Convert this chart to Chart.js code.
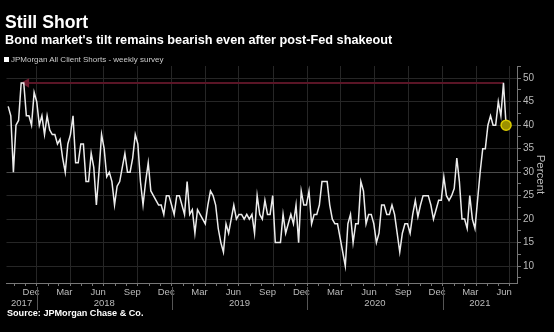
<!DOCTYPE html>
<html>
<head>
<meta charset="utf-8">
<script src="https://cdn.jsdelivr.net/npm/chart.js@4"></script>
<style>
  body { margin: 0; background: #000; }
  #cadre { position: relative; width: 554px; height: 332px; overflow: hidden; background: #000;
           font-family: "Liberation Sans", Arial, sans-serif; }
  #graphe { position: absolute; left: 0; top: 0; }
  .txt { position: absolute; white-space: nowrap; line-height: 1; }
  #titre { left: 5px; top: 14px; font-size: 17.6px; font-weight: bold; color: #fff; }
  #soustitre { left: 5px; top: 33.5px; font-size: 12.7px; font-weight: bold; color: #fff; }
  #legende { left: 11px; top: 56px; font-size: 8px; color: #ccc; }
  #carre { position: absolute; left: 4px; top: 57px; width: 5px; height: 5px; background: #fff; }
  #source { left: 7px; top: 309px; font-size: 9.1px; font-weight: bold; color: #fff; }
</style>
</head>
<body>
<div id="cadre">
  <canvas id="graphe" width="554" height="332"></canvas>
  <div class="txt" id="titre">Still Short</div>
  <div class="txt" id="soustitre">Bond market's tilt remains bearish even after post-Fed shakeout</div>
  <div id="carre"></div>
  <div class="txt" id="legende">JPMorgan All Client Shorts - weekly survey</div>
  <div class="txt" id="source">Source: JPMorgan Chase &amp; Co.</div>
</div>
<script>
// ---- DONNÉES ----
// Sondage hebdo JPMorgan : % de clients "short" sur les Treasuries
const premiereSemaine = '2017-10-16'
const shorts = [
  44, 42, 30, 40, 41, 49, 49, 42, 42, 40,
  47, 45, 40, 42, 38, 42, 39, 38, 38, 36,
  37, 33, 30, 36, 38, 42, 32, 32, 36, 36,
  28, 28, 34, 31, 23, 30, 38, 35, 29, 30,
  28, 23, 27, 28, 31, 34, 30, 30, 33, 38,
  36, 28, 23, 28, 32, 26, 25, 24, 23, 23,
  21, 25, 25, 23, 21, 25, 25, 23, 21, 28,
  21, 22, 17, 22, 21, 20, 19, 23, 26, 25,
  23, 18, 15, 13, 19, 17, 20, 23, 20, 21,
  21, 20, 21, 20, 21, 17, 25, 21, 20, 24,
  21, 21, 25, 15, 15, 15, 21, 17, 19, 21,
  19, 23, 15, 26, 23, 23, 26, 19, 21, 21,
  23, 28, 28, 28, 23, 20, 19, 19, 16, 13,
  10, 19, 21, 15, 19, 19, 28, 26, 19, 21,
  21, 19, 15, 17, 23, 23, 21, 21, 23, 21,
  17, 13, 17, 19, 19, 17, 21, 24, 20.5, 23,
  25, 25, 25, 23, 20, 22, 24, 24, 29, 25,
  24, 25, 26.5, 33, 28, 20, 20, 18, 25, 20,
  18, 24, 30, 35, 35, 40, 42, 40, 40, 45,
  42, 49, 40
]
// ligne rouge : niveau du pic de fin 2017, retrouvé en juin 2021
const niveauPic = 49
const semainesPic = [7, 191]

const ticksY = [10, 15, 20, 25, 30, 35, 40, 45, 50]
const moisNoms = ['Jan', 'Feb', 'Mar', 'Apr', 'May', 'Jun', 'Jul', 'Aug', 'Sep', 'Oct', 'Nov', 'Dec']
const moisAffiches = [2, 5, 8, 11]
const annees = [2017, 2018, 2019, 2020, 2021]

// ---- ÉCHELLE DE TEMPS (jours depuis le 1er janvier 2018) ----
const JOUR = 864e5
const origine = Date.UTC(2018, 0, 1)
const jour = (a, m, j) => (Date.UTC(a, m, j) - origine) / JOUR
const debut = (Date.parse(premiereSemaine) - origine) / JOUR
const semaine = i => debut + 7 * i

const points = shorts.map((v, i) => ({ x: semaine(i), y: v }))
const repere = semainesPic.map(i => ({ x: semaine(i), y: niveauPic }))

const GRILLE = '#262626'
const TRANSPARENT = 'rgba(0,0,0,0)'

// années + séparateurs sous l'axe des dates
const pluginAnnees = {
  id: 'annees',
  afterDraw(chart) {
    const x = chart.scales.x
    const ctx = chart.ctx
    ctx.save()
    ctx.font = '9.5px "Liberation Sans", Arial, sans-serif'
    ctx.fillStyle = '#bbb'
    ctx.textAlign = 'center'
    ctx.textBaseline = 'middle'
    ctx.strokeStyle = '#555'
    ctx.lineWidth = 1
    annees.forEach(a => {
      const d0 = jour(a, 0, 1)
      const g = Math.max(d0, x.min)
      const d = Math.min(jour(a + 1, 0, 1), x.max)
      ctx.fillText(String(a), (x.getPixelForValue(g) + x.getPixelForValue(d)) / 2, 303)
      if (d0 > x.min) {
        const px = Math.round(x.getPixelForValue(d0)) + 0.5
        ctx.beginPath()
        ctx.moveTo(px, 287)
        ctx.lineTo(px, 310)
        ctx.stroke()
      }
    })
    ctx.restore()
  }
}

new Chart(document.getElementById('graphe'), {
  type: 'line',
  data: {
    datasets: [
      {
        data: points,
        borderColor: '#ececec',
        borderWidth: 1.5,
        tension: 0,
        pointRadius: c => c.dataIndex === shorts.length - 1 ? 5 : 0,
        pointBackgroundColor: '#9c9000',
        pointBorderColor: '#dccc00',
        pointBorderWidth: 1.5,
        order: 0
      },
      {
        data: repere,
        borderColor: '#5a1526',
        borderWidth: 2,
        pointStyle: 'triangle',
        pointRotation: -90,
        pointRadius: c => c.dataIndex === 0 ? 3.5 : 0,
        pointBackgroundColor: '#6e1a2e',
        pointBorderColor: '#6e1a2e',
        order: 1
      }
    ]
  },
  options: {
    responsive: false,
    animation: false,
    layout: { padding: { left: 3, top: 66, right: 0, bottom: 0 } },
    plugins: { legend: { display: false }, tooltip: { enabled: false } },
    scales: {
      x: {
        type: 'linear',
        min: debut - 4.6,
        max: semaine(shorts.length - 1) + 29.5,
        afterBuildTicks: axe => {
          const t = []
          for (let a = 2017; a <= 2021; a++) {
            for (let m = 0; m < 12; m++) {
              const d = jour(a, m, 1)
              if (d >= axe.min && d <= axe.max) t.push({ value: d, trimestre: m % 3 === 0 })
              if (moisAffiches.includes(m)) {
                const milieu = (d + jour(a, m + 1, 1)) / 2
                if (milieu >= axe.min && milieu <= axe.max) t.push({ value: milieu, nom: moisNoms[m] })
              }
            }
          }
          t.sort((p, q) => p.value - q.value)
          axe.ticks = t
        },
        afterFit: axe => { axe.height = 49 },
        grid: {
          color: c => c.tick && c.tick.trimestre ? GRILLE : TRANSPARENT,
          tickColor: c => c.tick && c.tick.nom === undefined ? '#777' : TRANSPARENT,
          tickLength: 3
        },
        border: { display: true, color: '#777' },
        ticks: {
          autoSkip: false,
          maxRotation: 0,
          padding: 1,
          color: '#bbb',
          font: { family: '"Liberation Sans", Arial, sans-serif', size: 9.5 },
          callback: (v, i, t) => t[i].nom || ''
        }
      },
      y: {
        position: 'right',
        min: 6.4,
        max: 52.6,
        afterBuildTicks: axe => {
          const t = []
          for (let v = 7.5; v <= 52.5; v += 2.5) t.push({ value: v, majeur: ticksY.includes(v) })
          axe.ticks = t
        },
        afterFit: axe => { axe.width = 37 },
        grid: {
          color: c => !c.tick || !c.tick.majeur ? TRANSPARENT : (c.tick.value === 30 ? '#4a4a4a' : GRILLE),
          tickColor: '#777',
          tickLength: 4
        },
        border: { display: true, color: '#777' },
        ticks: {
          autoSkip: false,
          padding: 2,
          color: '#bbb',
          font: { family: '"Liberation Sans", Arial, sans-serif', size: 10 },
          callback: (v, i, t) => t[i].majeur ? String(v) : ''
        },
        title: {
          display: true,
          text: 'Percent',
          color: '#bbb',
          font: { family: '"Liberation Sans", Arial, sans-serif', size: 11.5 },
          padding: { top: 7, bottom: 0 }
        }
      }
    }
  },
  plugins: [pluginAnnees]
})
</script>
</body>
</html>
